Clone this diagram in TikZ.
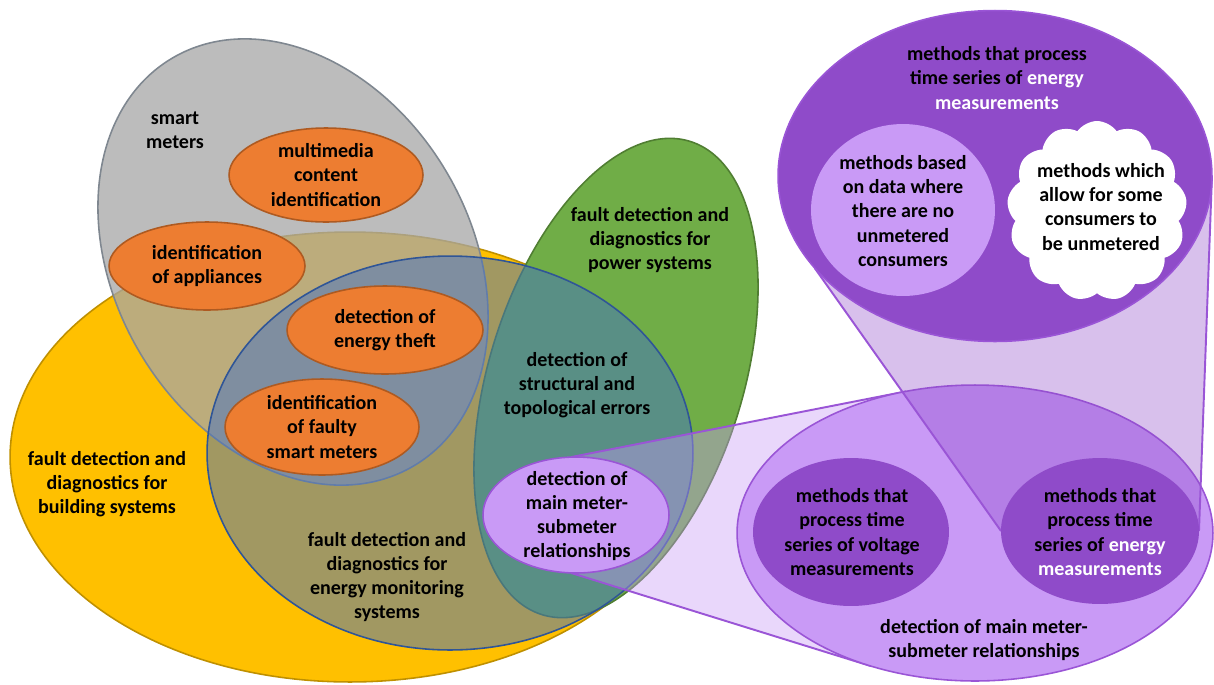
\documentclass[tikz,border=0pt]{standalone}
\usepackage{fontspec}
\setmainfont{Carlito}
\usetikzlibrary{shapes.geometric,shapes.symbols}
\newcommand\lblfont{\fontsize{11.4}{13.7}\selectfont\bfseries}
\definecolor{yellowF}{HTML}{FFC000}
\definecolor{yellowD}{HTML}{BF9000}
\definecolor{grayF}{HTML}{A6A6A6}
\definecolor{grayD}{HTML}{7F8790}
\definecolor{greenF}{HTML}{70AD47}
\definecolor{greenD}{HTML}{507E32}
\definecolor{blueF}{HTML}{4472C4}
\definecolor{blueD}{HTML}{2F5597}
\definecolor{orangeF}{HTML}{ED7D31}
\definecolor{orangeD}{HTML}{AE5A21}
\definecolor{purpL}{HTML}{C99AF6}
\definecolor{purpD}{HTML}{8F4BC9}
\definecolor{purpLine}{HTML}{9A55D6}
\begin{document}
\begin{tikzpicture}[x=0.02cm,y=0.02cm,
  shp/.style={ellipse, inner sep=0pt, outer sep=0pt, line width=0.9pt},
  orangeE/.style={shp, draw=orangeD, fill=orangeF},
  lbl/.style={font=\lblfont, align=center, text=black, inner sep=0pt},
  funnelA/.style={fill=purpL, fill opacity=0.4},
  funnelB/.style={fill=purpD, fill opacity=0.35},
  fline/.style={draw=purpLine, line width=1.1pt}]
\useasboundingbox (0,0) rectangle (1214,-684);
% Venn sets
\node[shp, draw=yellowD, fill=yellowF, minimum width=13.6cm, minimum height=9cm] (build) at (350,-457) {};
\node[shp, draw=grayD, fill=grayF, fill opacity=0.75, rotate=-59.3, minimum width=9.48cm, minimum height=7.12cm] (smart) at (293,-262) {};
\node[shp, draw=greenD, fill=greenF, rotate=72.6, minimum width=9.92cm, minimum height=5.08cm] (power) at (616,-378) {};
\node[shp, draw=blueD, fill=blueF, fill opacity=0.5, minimum width=9.72cm, minimum height=7.88cm] (monit) at (450,-453) {};
% orange items
\node[orangeE, minimum width=3.88cm, minimum height=1.88cm] (multi) at (326,-175) {};
\node[orangeE, minimum width=3.92cm, minimum height=1.76cm] (appl) at (207,-266) {};
\node[orangeE, minimum width=3.92cm, minimum height=1.76cm] (theft) at (385,-330) {};
\node[orangeE, minimum width=3.88cm, minimum height=1.92cm] (faulty) at (322,-427) {};
% small and big main meter-submeter ellipses
\node[shp, minimum width=3.72cm, minimum height=2.32cm] (mmr) at (576,-515) {};
\node[shp, minimum width=9.52cm, minimum height=5.92cm] (bigmmr) at (975,-533) {};
\fill[funnelA] (mmr.95) -- (bigmmr.116) -- (bigmmr.north) -- (bigmmr.south) -- (bigmmr.232) -- (mmr.265) -- cycle;
\draw[fline] (mmr.95) -- (bigmmr.116);
\draw[fline] (mmr.265) -- (bigmmr.232);
\node[shp, draw=purpLine, fill=purpL, minimum width=3.72cm, minimum height=2.32cm] (mmrS) at (mmr) {};
\node[shp, draw=purpLine, fill=purpL, minimum width=9.52cm, minimum height=5.92cm] (bigmmrS) at (bigmmr) {};
% top dark ellipse and second funnel
\node[shp, minimum width=8.68cm, minimum height=6.62cm] (topE) at (995,-176) {};
\node[shp, minimum width=3.96cm, minimum height=2.92cm] (enE) at (1100,-531) {};
\fill[funnelB] (topE.207) -- (topE.east) -- (enE.east) -- (enE.west) -- cycle;
\draw[fline] (topE.207) -- (enE.west);
\draw[fline] (topE.east) -- (enE.east);
\node[shp, draw=purpLine, fill=purpD, minimum width=8.68cm, minimum height=6.62cm] (topES) at (topE) {};
\node[shp, fill=purpL, minimum width=3.68cm, minimum height=3.44cm] (circ) at (903,-210) {};
\node[cloud, cloud puffs=13, cloud puff arc=110, aspect=1, fill=white, inner sep=0pt, minimum width=3.6cm, minimum height=3.6cm] (cloudN) at (1097,-211) {};
\node[shp, fill=purpD, minimum width=3.92cm, minimum height=2.96cm] (voltE) at (851,-532) {};
\node[shp, fill=purpD, minimum width=3.96cm, minimum height=2.92cm] (enES) at (enE) {};
% labels
\node[lbl] (tSmart) at (175,-130) {smart\\meters};
\node[lbl] (tBuild) at (107,-484) {fault detection and\\diagnostics for\\building systems};
\node[lbl] (tMonit) at (387,-577) {fault detection and\\diagnostics for\\energy monitoring\\systems};
\node[lbl] (tPower) at (650,-240) {fault detection and\\diagnostics for\\power systems};
\node[lbl] (tStruct) at (577,-385) {detection of\\structural and\\topological errors};
\node[lbl] (tMulti) at (multi) {multimedia\\content\\identification};
\node[lbl] (tAppl) at (appl) {identification\\of appliances};
\node[lbl] (tTheft) at (theft) {detection of\\energy theft};
\node[lbl] (tFaulty) at (faulty) {identification\\of faulty\\smart meters};
\node[lbl] (tMmr) at (577,-516) {detection of\\main meter-\\submeter\\relationships};
\node[lbl] (tTop) at (997,-78) {methods that process\\time series of \textcolor{white}{energy}\\\textcolor{white}{measurements}};
\node[lbl] (tCirc) at (903,-211) {methods based\\on data where\\there are no\\unmetered\\consumers};
\node[lbl] (tCloud) at (1101,-207) {methods which\\allow for some\\consumers to\\be unmetered};
\node[lbl] (tVolt) at (852,-532) {methods that\\process time\\series of voltage\\measurements};
\node[lbl] (tEn) at (1100,-532) {methods that\\process time\\series of \textcolor{white}{energy}\\\textcolor{white}{measurements}};
\node[lbl] (tBig) at (984,-640) {detection of main meter-\\submeter relationships};
\end{tikzpicture}
\end{document}
